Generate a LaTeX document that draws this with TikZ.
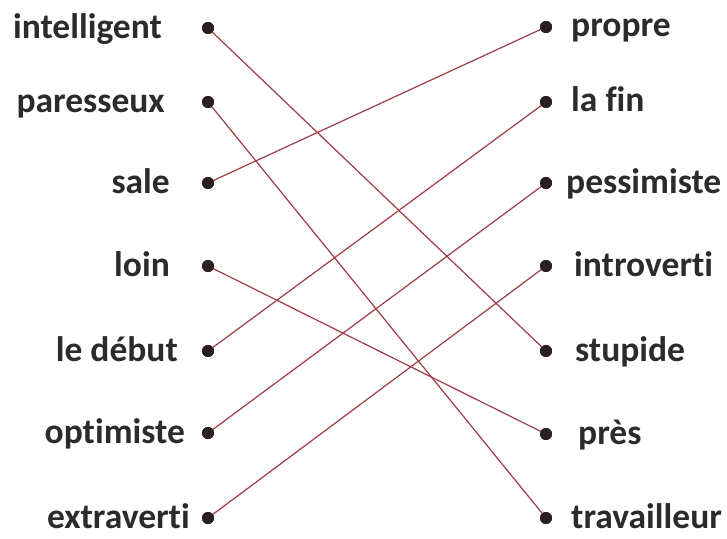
\documentclass[tikz,border=0pt]{standalone}
\usepackage{fontspec}
\setmainfont{Carlito}[Ligatures=NoCommon]
\definecolor{txt}{HTML}{2B2B2B}
\definecolor{link}{HTML}{9E3B47}
\definecolor{dotc}{HTML}{2A1E20}
\begin{document}
\begin{tikzpicture}[x=1pt,y=-1pt,
  lbl/.style={font=\bfseries\fontsize{35.5}{40}\selectfont, text=txt, inner sep=0pt},
  dotn/.style={circle, fill=dotc, minimum size=12pt, inner sep=0pt},
  conn/.style={draw=link, line width=1.2pt}]
\useasboundingbox (0,0) rectangle (727,538);
% left dots
\node[dotn] (L1) at (208,28) {};
\node[dotn] (L2) at (208,102) {};
\node[dotn] (L3) at (208,183) {};
\node[dotn] (L4) at (208,266) {};
\node[dotn] (L5) at (208,351) {};
\node[dotn] (L6) at (208,433) {};
\node[dotn] (L7) at (208,518) {};
% right dots
\node[dotn] (R1) at (546,27) {};
\node[dotn] (R2) at (546,102) {};
\node[dotn] (R3) at (546,183) {};
\node[dotn] (R4) at (546,266) {};
\node[dotn] (R5) at (546,351) {};
\node[dotn] (R6) at (546,434) {};
\node[dotn] (R7) at (546,518) {};
% left labels
\node[lbl, anchor=base east] (t1) at (162,38) {intelligent};
\node[lbl, anchor=base east] (t2) at (165,112) {paresseux};
\node[lbl, anchor=base east] (t3) at (170,193) {sale};
\node[lbl, anchor=base east] (t4) at (170,276) {loin};
\node[lbl, anchor=base east] (t5) at (178,361) {le début};
\node[lbl, anchor=base east] (t6) at (185,443) {optimiste};
\node[lbl, anchor=base east] (t7) at (190,528) {extraverti};
% right labels
\node[lbl, anchor=base west] (u1) at (571,36) {propre};
\node[lbl, anchor=base west] (u2) at (571,111) {la fin};
\node[lbl, anchor=base west] (u3) at (566,193) {pessimiste};
\node[lbl, anchor=base west] (u4) at (574,276) {introverti};
\node[lbl, anchor=base west] (u5) at (575,361) {stupide};
\node[lbl, anchor=base west] (u6) at (578,444) {près};
\node[lbl, anchor=base west] (u7) at (571,528) {travailleur};
% connectors
\draw[conn] (L1.center) -- (R5.center);
\draw[conn] (L2.center) -- (R7.center);
\draw[conn] (L3.center) -- (R1.center);
\draw[conn] (L4.center) -- (R6.center);
\draw[conn] (L5.center) -- (R2.center);
\draw[conn] (L6.center) -- (R3.center);
\draw[conn] (L7.center) -- (R4.center);
\foreach \n in {L1,L2,L3,L4,L5,L6,L7,R1,R2,R3,R4,R5,R6,R7} \node[dotn] at (\n) {};
\end{tikzpicture}
\end{document}
